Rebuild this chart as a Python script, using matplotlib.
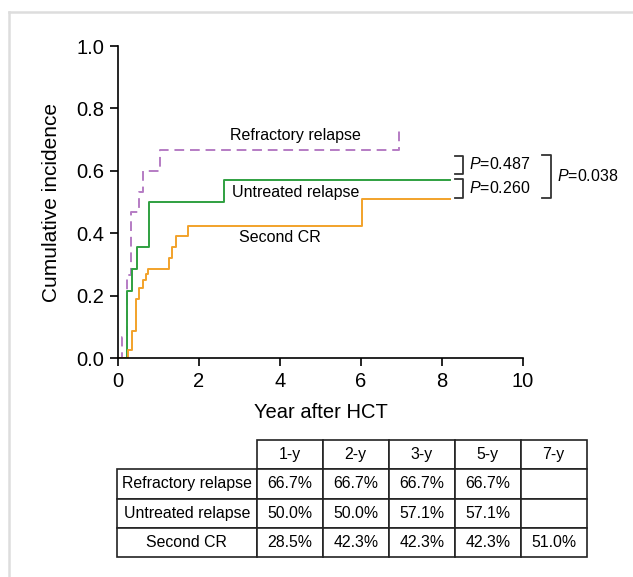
import matplotlib
matplotlib.use("Agg")
import matplotlib.pyplot as plt
from matplotlib.lines import Line2D

plt.rcParams['font.family'] = ['Liberation Sans', 'DejaVu Sans']
plt.rcParams['mathtext.fontset'] = 'custom'
plt.rcParams['mathtext.it'] = 'Liberation Sans:italic'
plt.rcParams['mathtext.rm'] = 'Liberation Sans'

# step curves (year, cumulative incidence)
refr_t = [0, 0.11, 0.21, 0.33, 0.51, 0.62, 1.03, 6.94]
refr_y = [0, 0.067, 0.267, 0.467, 0.533, 0.600, 0.667, 0.733]
untr_t = [0, 0.23, 0.35, 0.46, 0.76, 2.62, 8.2]
untr_y = [0, 0.214, 0.286, 0.357, 0.500, 0.571, 0.571]
cr2_t = [0, 0.24, 0.35, 0.45, 0.53, 0.62, 0.69, 0.74, 1.25, 1.33, 1.44, 1.72, 6.02, 8.2]
cr2_y = [0, 0.025, 0.085, 0.19, 0.225, 0.25, 0.27, 0.285, 0.32, 0.355, 0.39, 0.423, 0.51, 0.51]

groups = ['Refractory relapse', 'Untreated relapse', 'Second CR']
col_labels = ['1-y', '2-y', '3-y', '5-y', '7-y']
table_vals = [
    ['66.7%', '66.7%', '66.7%', '66.7%', ''],
    ['50.0%', '50.0%', '57.1%', '57.1%', ''],
    ['28.5%', '42.3%', '42.3%', '42.3%', '51.0%'],
]
p_values = ['0.487', '0.260', '0.038']

W, H = 633, 577
fig = plt.figure(figsize=(W / 100, H / 100), dpi=100)
ax = fig.add_axes([118 / W, 219 / H, 405 / W, 312 / H])

ax.step(refr_t, refr_y, where='post', color='#b57cc4', lw=1.4, dashes=(5, 3))
ax.step(untr_t, untr_y, where='post', color='#2fa040', lw=1.4)
ax.step(cr2_t, cr2_y, where='post', color='#f2a22a', lw=1.4)

ax.set_xlim(0, 10)
ax.set_ylim(0, 1)
ax.set_xticks(range(0, 11, 2))
ax.set_yticks([0, 0.2, 0.4, 0.6, 0.8, 1.0])
ax.set_yticklabels(['0.0', '0.2', '0.4', '0.6', '0.8', '1.0'])
for s in ['top', 'right']:
    ax.spines[s].set_visible(False)
for s in ['left', 'bottom']:
    ax.spines[s].set_linewidth(1.2)
ax.tick_params(direction='out', length=5.5, width=1.2, pad=4.5, labelsize=14.5)
ax.set_xlabel('Year after HCT', fontsize=14.5, labelpad=9)
ax.set_ylabel('Cumulative incidence', fontsize=15, labelpad=11)

ax.text(4.38, 0.712, groups[0], fontsize=11.5, ha='center', va='center')
ax.text(4.38, 0.532, groups[1], fontsize=11.5, ha='center', va='center')
ax.text(4.0, 0.385, groups[2], fontsize=11.5, ha='center', va='center')

# brackets with P values
bk = dict(color='#333333', lw=1.3, clip_on=False)
ax.plot([8.32, 8.52, 8.52, 8.32], [0.649, 0.649, 0.590, 0.590], **bk)
ax.plot([8.32, 8.52, 8.52, 8.32], [0.573, 0.573, 0.514, 0.514], **bk)
ax.plot([10.46, 10.68, 10.68, 10.46], [0.651, 0.651, 0.514, 0.514], **bk)
ax.text(8.66, 0.622, '$P$=' + p_values[0], fontsize=11.5, va='center', clip_on=False)
ax.text(8.66, 0.545, '$P$=' + p_values[1], fontsize=11.5, va='center', clip_on=False)
ax.text(10.85, 0.582, '$P$=' + p_values[2], fontsize=11.5, va='center', clip_on=False)

# table
tab_ax = fig.add_axes([116.7 / W, 20 / H, 470 / W, 117 / H])
tab_ax.axis('off')
cells = [[''] + col_labels] + [[g] + row for g, row in zip(groups, table_vals)]
widths = [140 / 470] + [66 / 470] * 5
tbl = tab_ax.table(cellText=cells, colWidths=widths, cellLoc='center', bbox=[0, 0, 1, 1])
tbl.auto_set_font_size(False)
tbl.set_fontsize(11.4)
for (r, c), cell in tbl.get_celld().items():
    cell.set_linewidth(1.2)
    cell.set_edgecolor('#222222')
    if r == 0 and c == 0:
        cell.visible_edges = 'open'

# outer frame
fig.add_artist(Line2D([9 / W, 1], [1 - 12 / H, 1 - 12 / H], transform=fig.transFigure,
                      color='#dddddd', lw=1.8))
fig.add_artist(Line2D([9 / W, 9 / W], [0, 1 - 12 / H], transform=fig.transFigure,
                      color='#dddddd', lw=1.8))

fig.savefig('out.png', dpi=100, facecolor='white')
